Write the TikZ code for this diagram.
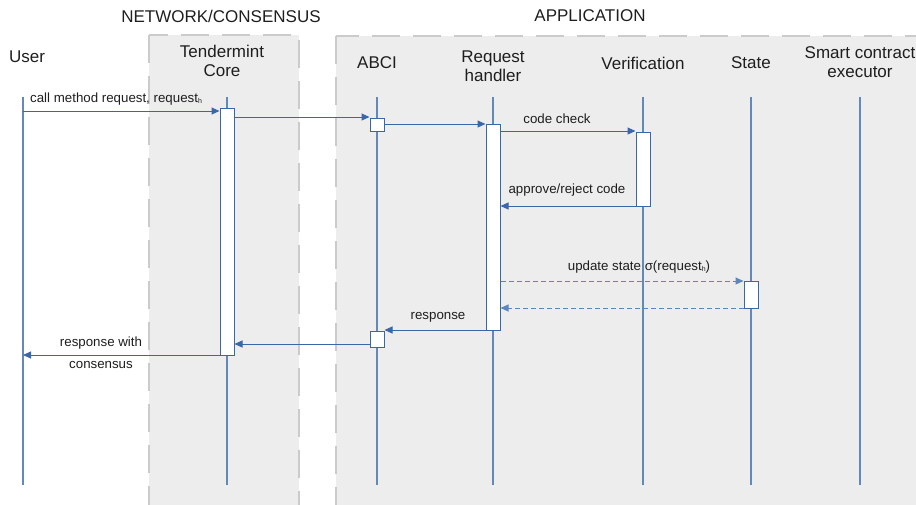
\documentclass[tikz,border=0pt]{standalone}
\usepackage{fontspec}
\setmainfont{Liberation Sans}
\usetikzlibrary{arrows.meta}
\definecolor{zone}{HTML}{EDEDED}
\definecolor{zoneedge}{HTML}{CBCBCB}
\definecolor{lifeblue}{HTML}{6288BC}
\definecolor{msgblue}{HTML}{3A67A8}
\definecolor{dashblue}{HTML}{5A86C2}
\definecolor{ink}{HTML}{1E1E1E}
\newcommand{\subh}{\raisebox{-1.5pt}{\fontsize{7}{8}\selectfont h}}

\begin{document}
\begin{tikzpicture}[x=1pt,y=-1pt,
  zonebox/.style={fill=zone, draw=zoneedge, line width=2.7pt, dash pattern=on 28pt off 13pt},
  head/.style={font=\fontsize{17}{19}\selectfont, text=ink, align=center, inner sep=0},
  actor/.style={font=\fontsize{17}{19}\selectfont, text=ink, align=center, inner sep=0},
  lifeline/.style={draw=lifeblue, line width=1.3pt},
  actbox/.style={draw=msgblue, fill=white, line width=1pt, minimum width=14pt, inner sep=0},
  msg/.style={draw=msgblue, line width=1pt, -{Triangle[length=8pt,width=7pt]}},
  retmsg/.style={draw=dashblue, line width=1pt, dash pattern=on 5pt off 3pt, -{Triangle[length=8pt,width=7pt]}},
  lbl/.style={font=\fontsize{13.3}{16}\selectfont, text=ink, inner sep=0}
]
\useasboundingbox (0,0) rectangle (916,504);

% shaded zones
\begin{scope}
  \clip (0,0) rectangle (916,504);
  \draw[zonebox] (149,35) rectangle (299,530);
  \draw[zonebox] (336,36) rectangle (940,530);
\end{scope}

% zone headings
\node[head] (hnet) at (221,16) {NETWORK/CONSENSUS};
\node[head] (happ) at (590,16) {APPLICATION};

% participants
\node[actor] (user) at (27,57) {User};
\node[actor] (core) at (222,61) {Tendermint\\Core};
\node[actor] (abci) at (377,63) {ABCI};
\node[actor] (handler) at (493,66) {Request\\handler};
\node[actor] (verif) at (643,63) {Verification};
\node[actor] (state) at (751,63) {State};
\node[actor] (exec) at (860,62) {Smart contract\\executor};

% lifelines
\foreach \n/\x in {u/23, c/227, a/377, h/493, v/643, s/751, e/860} {
  \coordinate (\n top) at (\x,97);
  \coordinate (\n bot) at (\x,485);
  \draw[lifeline] (\n top) -- (\n bot);
}

% activation bars
\node[actbox, minimum height=247pt] (coreact) at (227,231.5) {};
\node[actbox, minimum height=13pt] (abciA) at (377,124.5) {};
\node[actbox, minimum height=16pt] (abciB) at (377,339) {};
\node[actbox, minimum height=206pt] (hact) at (493,227) {};
\node[actbox, minimum height=74pt] (vact) at (643,169) {};
\node[actbox, minimum height=27pt] (sact) at (751,294.5) {};

% message rows
\coordinate (r1) at (23,111);
\coordinate (r2) at (0,117);
\coordinate (r3) at (0,124);
\coordinate (r4) at (0,131);
\coordinate (r5) at (0,206);
\coordinate (r6) at (0,281);
\coordinate (r7) at (0,308);
\coordinate (r8) at (0,330);
\coordinate (r9) at (0,344);
\coordinate (r10) at (23,355);

% messages
\draw[msg] (r1) -- (coreact.west |- r1);
\node[lbl, anchor=west] (l1) at (30,99) {call method request, request\subh};

\draw[msg] (coreact.east |- r2) -- (abciA.west |- r2);
\draw[msg] (abciA.east |- r3) -- (hact.west |- r3);

\draw[msg] (hact.east |- r4) -- (vact.west |- r4);
\node[lbl] (l4) at (557,119) {code check};

\draw[msg] (vact.west |- r5) -- (hact.east |- r5);
\node[lbl] (l5) at (567,190) {approve/reject code};

\draw[retmsg] (hact.east |- r6) -- (sact.west |- r6);
\node[lbl] (l6) at (639,267) {update state σ(request\subh)};

\draw[retmsg] (sact.west |- r7) -- (hact.east |- r7);

\draw[msg] (hact.west |- r8) -- (abciB.east |- r8);
\node[lbl] (l8) at (438,317) {response};

\draw[msg] (abciB.west |- r9) -- (coreact.east |- r9);

\draw[msg] (coreact.west |- r10) -- (r10);
\node[lbl] (l10a) at (101,343) {response with};
\node[lbl] (l10b) at (101,365) {consensus};
\end{tikzpicture}
\end{document}
